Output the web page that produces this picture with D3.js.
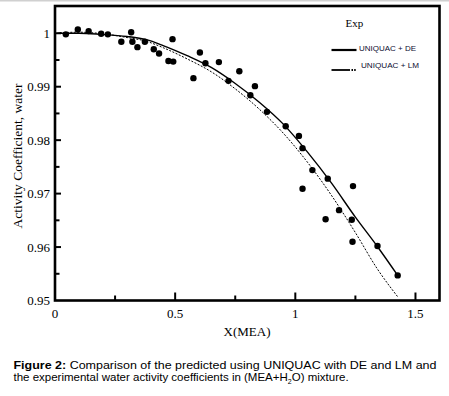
<!DOCTYPE html>
<html>
<head>
<meta charset="utf-8">
<script src="https://cdn.jsdelivr.net/npm/d3@7"></script>
<style>
  body { margin: 0; background: white; }
</style>
</head>
<body>
<div id="container"></div>
<script>
// experimental points
let expX = [0.045, 0.095, 0.140, 0.192, 0.220, 0.276, 0.317, 0.322, 0.343, 0.374, 0.411, 0.433, 0.472, 0.492, 0.489,
            0.576, 0.603, 0.626, 0.682, 0.722, 0.767, 0.813, 0.832, 0.882, 0.960, 1.015, 1.030, 1.071, 1.135, 1.030,
            1.240, 1.182, 1.126, 1.235, 1.238, 1.342, 1.426];
let expY = [0.9998, 1.0007, 1.0004, 0.9999, 0.9998, 0.9984, 1.0002, 0.9984, 0.9974, 0.9984, 0.9970, 0.9962, 0.9948, 0.9947, 0.9989,
            0.9916, 0.9964, 0.9944, 0.9946, 0.9911, 0.9929, 0.9884, 0.9901, 0.9853, 0.9826, 0.9808, 0.9785, 0.9744, 0.9728, 0.9709,
            0.9714, 0.9669, 0.9652, 0.9651, 0.9610, 0.9602, 0.9547];

// UNIQUAC + DE (solid)
let deX = [0.01, 0.10, 0.19, 0.30, 0.38, 0.45, 0.55, 0.65, 0.75, 0.85, 0.95, 1.05, 1.15, 1.25, 1.34, 1.426];
let deY = [1.0000, 1.0000, 0.9998, 0.9994, 0.9988, 0.9977, 0.9958, 0.9936, 0.9906, 0.9871, 0.9830, 0.9778, 0.9720, 0.9656, 0.9602, 0.9547];

// UNIQUAC + LM (dotted)
let lmX = [0.02, 0.10, 0.20, 0.30, 0.38, 0.45, 0.55, 0.65, 0.75, 0.85, 0.95, 1.05, 1.15, 1.25, 1.34, 1.426];
let lmY = [1.0001, 1.0002, 0.9999, 0.9992, 0.9985, 0.9973, 0.9952, 0.9928, 0.9896, 0.9858, 0.9813, 0.9759, 0.9697, 0.9627, 0.9560, 0.9507];

let xMajor = [0, 0.5, 1, 1.5];
let xMajorLabels = ["0", "0.5", "1", "1.5"];
let xMinor = [0.25, 0.75, 1.25];
let yMajor = [0.95, 0.96, 0.97, 0.98, 0.99, 1];
let yMajorLabels = ["0.95", "0.96", "0.97", "0.98", "0.99", "1"];
let yMinor = [0.955, 0.965, 0.975, 0.985, 0.995];

let w = 449;
let h = 396;
let plotLeft = 55, plotRight = 439.5, plotTop = 6, plotBottom = 300.5;
let serif = "'Liberation Serif', 'Times New Roman', serif";
let sans = "'Liberation Sans', Arial, sans-serif";

let viz = d3.select("#container").append("svg")
              .attr("width", w)
              .attr("height", h)
              .style("background-color", "white")
;

// thin grey line at the very top of the picture
viz.append("rect").attr("x", 0).attr("y", 0).attr("width", w).attr("height", 1.5).attr("fill", "#d0d0d0");

let xScale = d3.scaleLinear().domain([0, 1.6]).range([plotLeft, plotRight]);
let yScale = d3.scaleLinear().domain([0.95, 1.0051]).range([plotBottom, plotTop]);

// ticks (inward)
viz.selectAll(".xmaj").data(xMajor.slice(1)).enter().append("line")
    .attr("x1", d => xScale(d)).attr("x2", d => xScale(d))
    .attr("y1", plotBottom).attr("y2", plotBottom - 8)
    .attr("stroke", "black").attr("stroke-width", 2);
viz.selectAll(".xmin").data(xMinor).enter().append("line")
    .attr("x1", d => xScale(d)).attr("x2", d => xScale(d))
    .attr("y1", plotBottom).attr("y2", plotBottom - 5)
    .attr("stroke", "black").attr("stroke-width", 2);
viz.selectAll(".ymaj").data(yMajor.slice(1)).enter().append("line")
    .attr("x1", plotLeft).attr("x2", plotLeft + 6)
    .attr("y1", d => yScale(d)).attr("y2", d => yScale(d))
    .attr("stroke", "black").attr("stroke-width", 2);
viz.selectAll(".ymin").data(yMinor).enter().append("line")
    .attr("x1", plotLeft).attr("x2", plotLeft + 4.5)
    .attr("y1", d => yScale(d)).attr("y2", d => yScale(d))
    .attr("stroke", "black").attr("stroke-width", 2);

// tick labels
viz.selectAll(".xlab").data(xMajor).enter().append("text")
    .text((d, i) => xMajorLabels[i])
    .attr("x", d => xScale(d)).attr("y", 318)
    .attr("text-anchor", "middle")
    .attr("font-family", serif).attr("font-size", 13);
viz.selectAll(".ylab").data(yMajor).enter().append("text")
    .text((d, i) => yMajorLabels[i])
    .attr("x", 50).attr("y", d => yScale(d) + 4.5)
    .attr("text-anchor", "end")
    .attr("font-family", serif).attr("font-size", 13);

// axis titles
viz.append("text").text("X(MEA)")
    .attr("x", 247).attr("y", 336)
    .attr("text-anchor", "middle")
    .attr("font-family", serif).attr("font-size", 13);
viz.append("text").text("Activity Coefficient, water")
    .attr("transform", "translate(22,156) rotate(-90)")
    .attr("text-anchor", "middle")
    .attr("font-family", serif).attr("font-size", 13.5);

// curves
let lineMaker = d3.line().x(d => xScale(d[0])).y(d => yScale(d[1])).curve(d3.curveMonotoneX);
viz.append("path").attr("d", lineMaker(deX.map((x, i) => [x, deY[i]])))
    .attr("fill", "none").attr("stroke", "black").attr("stroke-width", 1.4);
viz.append("path").attr("d", lineMaker(lmX.map((x, i) => [x, lmY[i]])))
    .attr("fill", "none").attr("stroke", "black").attr("stroke-width", 1)
    .attr("stroke-dasharray", "2,1.5");

// experimental points
viz.selectAll(".pt").data(expX).enter().append("circle")
    .attr("cx", d => xScale(d)).attr("cy", (d, i) => yScale(expY[i]))
    .attr("r", 3.2).attr("fill", "black");

// frame
viz.append("rect").attr("x", plotLeft).attr("y", plotTop)
    .attr("width", plotRight - plotLeft).attr("height", plotBottom - plotTop)
    .attr("fill", "none").attr("stroke", "black").attr("stroke-width", 2.6);

// legend
viz.append("text").text("Exp").attr("x", 345.5).attr("y", 27)
    .attr("font-family", serif).attr("font-size", 11);
viz.append("line").attr("x1", 331.5).attr("x2", 356.5).attr("y1", 50).attr("y2", 50)
    .attr("stroke", "black").attr("stroke-width", 2.2);
viz.append("text").text("UNIQUAC + DE").attr("x", 359).attr("y", 50.5)
    .attr("font-family", sans).attr("font-size", 8).attr("fill", "#0d0d30")
    .attr("textLength", 57).attr("lengthAdjust", "spacingAndGlyphs");
viz.append("line").attr("x1", 331.5).attr("x2", 350).attr("y1", 70).attr("y2", 70)
    .attr("stroke", "black").attr("stroke-width", 1.8);
viz.append("line").attr("x1", 351.5).attr("x2", 356).attr("y1", 70).attr("y2", 70)
    .attr("stroke", "black").attr("stroke-width", 1.8).attr("stroke-dasharray", "1.5,1.2");
viz.append("text").text("UNIQUAC + LM").attr("x", 361).attr("y", 68)
    .attr("font-family", sans).attr("font-size", 8).attr("fill", "#0d0d30")
    .attr("textLength", 58).attr("lengthAdjust", "spacingAndGlyphs");

// caption
let cap1 = viz.append("text").attr("x", 13.5).attr("y", 368.5)
    .attr("font-family", sans).attr("font-size", 11.5)
    .attr("textLength", 423).attr("lengthAdjust", "spacingAndGlyphs");
cap1.append("tspan").text("Figure 2:").attr("font-weight", "bold");
cap1.append("tspan").text(" Comparison of the predicted using UNIQUAC with DE and LM and");

let cap2 = viz.append("text").attr("x", 13.5).attr("y", 380.5)
    .attr("font-family", sans).attr("font-size", 11.5);
cap2.append("tspan").text("the experimental water activity coefficients in (MEA+H");
cap2.append("tspan").text("2").attr("font-size", 7).attr("dy", 3);
cap2.append("tspan").text("O) mixture.").attr("dy", -3);
</script>
</body>
</html>
